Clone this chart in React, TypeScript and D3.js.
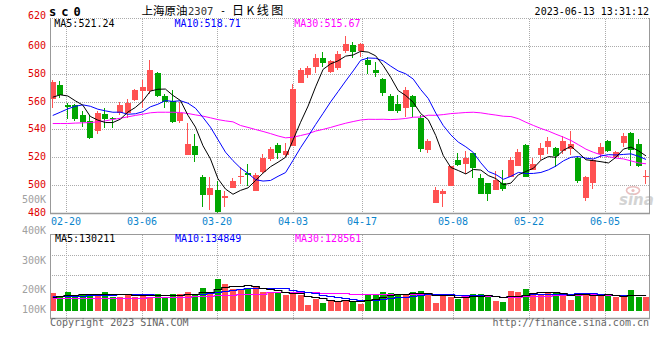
import React from "react";
import * as d3 from "d3";

// ---------------- data ----------------
const dates = ["02-16","02-17","02-20","02-21","02-22","02-23","02-24","02-27","02-28","03-01","03-02","03-03","03-06","03-07","03-08","03-09","03-10","03-13","03-14","03-15","03-16","03-17","03-20","03-21","03-22","03-23","03-24","03-27","03-28","03-29","03-30","03-31","04-03","04-04","04-06","04-07","04-10","04-11","04-12","04-13","04-14","04-17","04-18","04-19","04-20","04-21","04-24","04-25","04-26","04-27","04-28","05-04","05-05","05-08","05-09","05-10","05-11","05-12","05-15","05-16","05-17","05-18","05-19","05-22","05-23","05-24","05-25","05-26","05-29","05-30","05-31","06-01","06-02","06-05","06-06","06-07","06-08","06-09","06-12","06-13"];

const opens = [562.5,572.1,557.8,557.8,550.6,546.3,539.4,551.3,548.7,551.8,
 551.8,561.3,567.8,567.8,580.9,564.4,560.6,546.5,522.0,528.6,
 506.4,493.3,496.9,490.9,498.6,506.9,508.8,496.4,509.5,519.3,
 529.1,522.1,528.6,573.7,579.2,585.2,591.9,581.6,584.7,596.7,
 600.7,596.7,590.5,582.8,576.4,564.4,558.5,555.8,564.2,548.9,
 525.5,487.8,494.0,499.8,518.4,515.5,523.2,505.3,501.7,497.1,
 501.7,506.4,514.1,529.1,511.2,522.0,527.9,527.0,525.1,526.0,
 520.0,491.4,502.1,522.7,532.0,520.8,530.8,538.0,529.8,506.9];

const highs = [575.7,574.9,559.4,558.5,553.5,550.4,553.5,555.4,549.0,560.1,
 562.0,569.7,575.7,590.0,581.4,565.6,568.5,560.1,545.1,537.0,
 507.4,506.0,503.6,496.4,505.3,513.1,515.5,508.8,522.7,527.9,
 530.3,530.3,573.3,584.7,585.7,594.7,595.7,590.5,596.7,607.2,
 603.1,602.4,592.4,588.5,577.6,565.6,564.9,570.9,564.9,550.6,
 533.2,499.3,497.4,514.1,523.2,525.1,523.6,508.4,501.7,510.8,
 511.2,520.8,526.5,529.6,519.8,530.3,534.6,527.9,535.6,539.4,
 520.8,506.9,518.9,530.8,532.7,525.1,537.5,538.7,533.7,511.2];

const lows = [556.0,563.0,547.5,546.5,542.2,533.2,537.0,541.5,541.5,550.6,
 548.9,560.9,555.4,566.0,563.7,556.1,545.1,545.1,522.0,517.2,
 485.0,482.6,480.2,485.0,498.1,501.2,499.8,496.4,508.8,517.9,
 519.3,520.8,528.6,573.7,577.6,580.9,585.2,580.9,582.8,595.2,
 591.9,592.4,580.0,578.0,564.2,553.7,552.5,549.4,549.4,524.3,
 523.6,487.8,485.0,499.8,514.0,508.4,505.3,494.3,489.3,497.1,
 496.2,506.4,514.1,506.0,511.2,518.4,522.7,513.1,522.7,522.0,
 502.2,489.3,497.4,519.6,524.3,520.8,527.4,514.1,513.6,501.2];

const closes = [574.5,564.9,556.3,547.5,545.8,533.9,551.8,547.5,547.5,557.8,
 559.4,568.5,570.9,582.8,564.4,560.1,545.8,552.5,529.8,522.0,
 493.3,498.3,481.4,492.8,503.3,507.2,507.4,507.4,519.8,526.3,
 523.2,525.1,569.7,583.3,584.5,591.9,588.1,589.3,594.3,601.4,
 595.9,601.4,586.4,580.9,566.6,553.7,553.7,568.5,556.6,526.0,
 532.0,496.9,496.4,514.1,514.8,519.8,512.9,494.3,494.3,504.1,
 497.9,518.4,524.1,506.4,515.5,526.7,531.7,521.5,531.7,529.6,
 503.6,506.4,518.4,527.9,525.1,524.3,535.6,525.5,514.1,507.2];

// volume in thousands of lots
const volumesK = [150,120,158,119,148,141,141,158,119,122,
 141,120,148,120,141,120,141,148,158,141,
 192,148,268,233,190,190,198,212,158,150,
 150,133,158,133,48,105,68,85,85,97,
 76,62,133,133,158,150,133,133,158,167,
 141,68,141,122,105,125,141,141,133,88,
 80,167,158,184,150,141,150,158,133,95,
 150,150,141,125,125,120,120,175,120,120];

const ma5Head = [563.5, 565.2, 564.4, 560.9];
const ma10Head = [550.4, 552.7, 555.1, 557.0, 558.0, 557.0, 554.9, 553.7, 552.7];
const ma30Head = [544.6,544.6,544.6,544.9,545.1,545.3,545.8,546.5,547.5,548.4,549.4,550.4,551.3,552.3,552.7,552.7,552.7,552.5,551.8,550.8,549.9,548.7,547.4,546.5,545.8,543.2,541.8,540.3,538.9];
const volMa5HeadK = [114, 119, 130, 133];
const volMa10HeadK = [119, 119, 122, 122, 125, 128, 130, 130, 128];
const volMa30HeadK = [105,105,105,105,105,106,106,107,107,108,109,110,110,111,112,113,114,116,118,120,122,125,128,131,134,137,139,141,143];

const maLegend = ["521.24", "518.71", "515.67"];
const volMaLegend = ["130211", "134849", "128561"];
const priceTicks = [620, 600, 580, 560, 540, 520, 500, 480];
const volTickValues = [500000, 400000, 300000, 200000, 100000];
const volTickLabels = ["500K", "400K", "300K", "200K", "100K"];
const dateTicks = ["02-20", "03-06", "03-20", "04-03", "04-17", "05-08", "05-22", "06-05"];

// ---------------- helpers ----------------
function movingAvg(vals: number[], n: number, head: number[]) {
  return vals.map((_, i) => (i < n - 1 ? head[i] : (d3.mean(vals.slice(i - n + 1, i + 1)) as number)));
}

const RED = "#FF5252";
const GREEN = "#00A600";
const MONO = "'DejaVu Sans Mono', 'Liberation Mono', monospace";
const CJK = "'Noto Sans CJK SC', sans-serif";

export default function App() {
  const n = dates.length;
  const x = d3.scaleBand<string>().domain(dates).range([49, 649.8]).paddingInner(0.2).paddingOuter(0.1);
  const gx = d3.scalePoint<string>().domain(dates).range([50.4, 650.4]);
  const y = d3.scaleLinear().domain([480, 620]).range([213.5, 18.5]);
  const vy = d3.scaleLinear().domain([0, 650000]).range([311, 234.3]);
  const volLabelY = d3.scaleLinear().domain([100000, 200000, 300000, 400000, 500000]).range([312.7, 293.3, 264, 234, 203.3]);

  const left = (i: number) => Math.round(x(dates[i]) as number);
  const cx = (i: number) => (x(dates[i]) as number) + x.bandwidth() / 2;
  const bw = Math.round(x.bandwidth());

  const ma5 = movingAvg(closes, 5, ma5Head);
  const ma10 = movingAvg(closes, 10, ma10Head);
  const ma30 = movingAvg(closes, 30, ma30Head);
  const vols = volumesK.map((v) => v * 1000);
  const vma5 = movingAvg(vols, 5, volMa5HeadK.map((v) => v * 1000));
  const vma10 = movingAvg(vols, 10, volMa10HeadK.map((v) => v * 1000));
  const vma30 = movingAvg(vols, 30, volMa30HeadK.map((v) => v * 1000));

  const priceLine = d3.line<number>().x((_, i) => cx(i)).y((v) => y(v));
  const volLine = d3.line<number>().x((_, i) => cx(i)).y((v) => Math.floor(vy(v)) + 0.5).curve(d3.curveStep);

  const gridStroke = "#ababab";
  const axisStroke = "#999";

  return (
    <svg width={660} height={360} style={{ position: "absolute", left: 0, top: 0, background: "#fff" }}
      fontFamily={MONO} fontSize={10}>
      <defs>
        <clipPath id="pclip"><rect x={50} y={18} width={599.5} height={196} /></clipPath>
        <clipPath id="vclip"><rect x={50} y={234} width={599.5} height={84} /></clipPath>
      </defs>
      <rect x={0} y={0} width={660} height={360} fill="#fff" />

      {/* ---------- title ---------- */}
      <text x={49} y={16} fontSize={12} fontWeight="bold" letterSpacing={5} fill="#000">sc0</text>
      <text x={141.5} y={14.5} fontFamily={CJK} fontSize={11.5} fill="#000">上海原油</text>
      <text x={188} y={14.5} fontSize={10.5} fill="#333">2307</text>
      <text x={220} y={14} fill="#000">-</text>
      <text x={232} y={14.5} fontFamily={CJK} fontSize={12} letterSpacing={2.5} fill="#000">日K线图</text>
      <text x={649} y={15} textAnchor="end" fill="#000">2023-06-13 13:31:12</text>

      {/* ---------- price grid ---------- */}
      {priceTicks.filter((t) => t !== 480 && t !== 620).map((t) => (
        <line key={"h" + t} x1={50} x2={649} y1={Math.floor(y(t)) + 0.5} y2={Math.floor(y(t)) + 0.5}
          stroke={gridStroke} strokeDasharray="1,1" />
      ))}
      <line x1={50} x2={649} y1={18.5} y2={18.5} stroke={gridStroke} strokeDasharray="1,1" />
      {dateTicks.map((d) => {
        const gxx = Math.round(gx(d) as number) + 0.5;
        return (
          <g key={"v" + d}>
            <line x1={gxx} x2={gxx} y1={19} y2={213} stroke={gridStroke} strokeDasharray="1,1" />
            <line x1={gxx} x2={gxx} y1={235} y2={320} stroke={gridStroke} strokeDasharray="1,1" />
          </g>
        );
      })}

      {/* ---------- volume grid ---------- */}
      {[255.5, 275.5].map((gy) => (
        <line key={"vg" + gy} x1={50} x2={649} y1={gy} y2={gy} stroke={gridStroke} strokeDasharray="1,1" />
      ))}

      {/* ---------- watermark ---------- */}
      <g opacity={0.9}>
        <ellipse cx={633} cy={190.5} rx={6.5} ry={3.8} fill="none" stroke="#e8b8b8" strokeWidth={1.6} />
        <circle cx={633} cy={190.5} r={1.6} fill="#e8b8b8" />
        <text x={619} y={205} fontFamily="'DejaVu Sans', sans-serif" fontSize={15} fontWeight="bold" fontStyle="italic" fill="#cfcfcf">sina</text>
      </g>

      {/* ---------- candles ---------- */}
      <g clipPath="url(#pclip)" shapeRendering="crispEdges">
        {dates.map((d, i) => {
          const up = closes[i] >= opens[i];
          const col = up ? RED : GREEN;
          const l = left(i);
          const top = Math.round(y(Math.max(opens[i], closes[i])));
          const bot = Math.round(y(Math.min(opens[i], closes[i])));
          return (
            <g key={"c" + d}>
              <rect x={l + 2} y={Math.round(y(highs[i]))} width={1} height={Math.max(1, Math.round(y(lows[i])) - Math.round(y(highs[i])))} fill={col} />
              <rect x={l} y={top} width={bw} height={Math.max(1, bot - top)} fill={col} />
            </g>
          );
        })}
      </g>
      <g clipPath="url(#pclip)" fill="none" strokeWidth={1}>
        <path d={priceLine(ma30) || ""} stroke="#FF00FF" />
        <path d={priceLine(ma10) || ""} stroke="#0000FF" />
        <path d={priceLine(ma5) || ""} stroke="#000" />
      </g>

      {/* ---------- main axes ---------- */}
      <line x1={50.5} x2={50.5} y1={18} y2={214} stroke={axisStroke} />
      <line x1={649.5} x2={649.5} y1={18} y2={214} stroke={axisStroke} />
      <line x1={50} x2={650} y1={213.5} y2={213.5} stroke={axisStroke} strokeWidth={1.3} />

      {/* price labels */}
      {priceTicks.map((t) => (
        <text key={"pl" + t} x={46} y={t === 620 ? 19.3 : Math.floor(y(t)) + 2.5} textAnchor="end" fill="#E00000">{t}</text>
      ))}
      {/* volume labels */}
      {volTickValues.map((v, i) => (
        <text key={"vl" + v} x={46} y={volLabelY(v)} textAnchor="end" fill="#a0a0a0">{volTickLabels[i]}</text>
      ))}
      {/* date labels */}
      {dateTicks.map((d) => (
        <text key={"dl" + d} x={Math.round(gx(d) as number)} y={225} textAnchor="middle" fill="#0A84CC">{d}</text>
      ))}

      {/* main legend */}
      <text x={54.3} y={27.3} fill="#000">{"MA5:" + maLegend[0]}</text>
      <text x={174.5} y={27.3} fill="#0000FF">{"MA10:" + maLegend[1]}</text>
      <text x={294.3} y={27.3} fill="#FF00FF">{"MA30:" + maLegend[2]}</text>

      {/* ---------- volume ---------- */}
      <g clipPath="url(#vclip)" shapeRendering="crispEdges">
        {dates.map((d, i) => {
          const up = closes[i] >= opens[i];
          const top = Math.round(vy(vols[i]));
          return <rect key={"vb" + d} x={left(i)} y={top} width={bw} height={311 - top} fill={up ? RED : GREEN} />;
        })}
      </g>
      <g clipPath="url(#vclip)" fill="none" strokeWidth={1.2}>
        <path d={volLine(vma30) || ""} stroke="#FF00FF" />
        <path d={volLine(vma10) || ""} stroke="#0000FF" />
        <path d={volLine(vma5) || ""} stroke="#000" />
      </g>
      <line x1={50} x2={650} y1={234.5} y2={234.5} stroke={axisStroke} />
      <line x1={50.5} x2={50.5} y1={234} y2={319} stroke={axisStroke} />
      <line x1={649.5} x2={649.5} y1={234} y2={319} stroke={axisStroke} />
      <line x1={50} x2={650} y1={318.5} y2={318.5} stroke={axisStroke} strokeWidth={1.3} />

      <text x={55} y={242.3} fill="#000">{"MA5:" + volMaLegend[0]}</text>
      <text x={175} y={242.3} fill="#0000FF">{"MA10:" + volMaLegend[1]}</text>
      <text x={295} y={242.3} fill="#FF00FF">{"MA30:" + volMaLegend[2]}</text>

      {/* footer */}
      <text x={50} y={326} fill="#666">Copyright 2023 SINA.COM</text>
      <text x={649} y={326} textAnchor="end" fill="#666">http://finance.sina.com.cn</text>
    </svg>
  );
}
